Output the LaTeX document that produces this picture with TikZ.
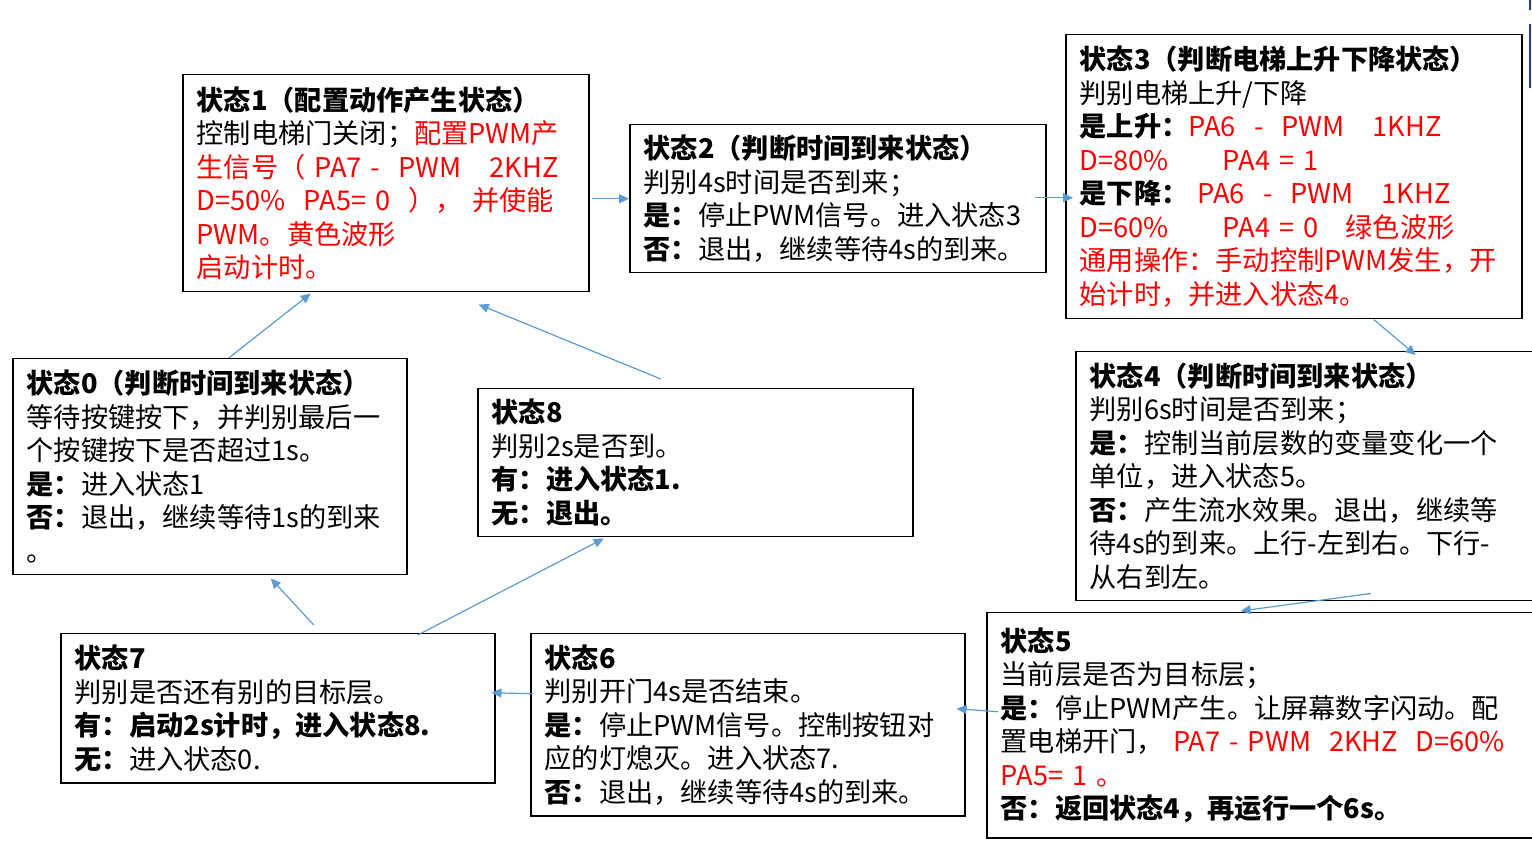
\documentclass[tikz,border=0pt]{standalone}
\usepackage{fontspec}
\setmainfont{Noto Sans CJK SC}
\usetikzlibrary{arrows.meta,calc}
\definecolor{alert-red}{HTML}{FF0000}
\definecolor{flow-blue}{HTML}{5B9BD5}
\definecolor{edge-navy}{HTML}{1F3E99}

\begin{document}
\begin{tikzpicture}[x=0.5pt, y=-0.5pt,
  every node/.style={font=\fontsize{13.6pt}{16.75pt}\selectfont},
  statebox/.style={draw=black, line width=0.75pt, anchor=north west, align=left, inner xsep=7pt, inner ysep=4pt},
  flow/.style={draw=flow-blue, line width=0.6pt, -{Triangle[length=5pt,width=4.5pt]}}]
  \useasboundingbox (0,0) rectangle (1532,849);

  % top row
  \node[statebox, text width=189pt, minimum height=108.5pt] (s1) at (182,74) {\textbf{状态1（配置动作产生状态）}\\
    控制电梯门关闭；\textcolor{alert-red}{配置PWM产}\\
    \textcolor{alert-red}{生信号（ PA7 -~~PWM\hspace{14pt}2KHZ}\\
    \textcolor{alert-red}{D=50\%~~PA5= 0~~），~并使能}\\
    \textcolor{alert-red}{PWM。黄色波形}\\
    \textcolor{alert-red}{启动计时。}};
  \node[statebox, text width=194pt, minimum height=74pt] (s2) at (629,124) {\textbf{状态2（判断时间到来状态）}\\
    判别4s时间是否到来；\\
    \textbf{是：}停止PWM信号。进入状态3\\
    \textbf{否：}退出，继续等待4s的到来。};
  \node[statebox, text width=214pt, minimum height=142pt] (s3) at (1065,34) {\textbf{状态3（判断电梯上升下降状态）}\\
    判别电梯上升/下降\\
    \textbf{是上升：}\textcolor{alert-red}{PA6~~-~~PWM\hspace{14pt}1KHZ}\\
    \textcolor{alert-red}{D=80\%\hspace{27pt}PA4 = 1}\\
    \textbf{是下降：}\textcolor{alert-red}{~PA6~~-~~PWM\hspace{14pt}1KHZ}\\
    \textcolor{alert-red}{D=60\%\hspace{27pt}PA4 = 0~~~绿色波形}\\
    \textcolor{alert-red}{通用操作：手动控制PWM发生，开}\\
    \textcolor{alert-red}{始计时，并进入状态4。}};

  % middle row
  \node[statebox, text width=183pt, minimum height=108pt] (s0) at (12,358) {\textbf{状态0（判断时间到来状态）}\\
    等待按键按下，并判别最后一\\
    个按键按下是否超过1s。\\
    \textbf{是：}进入状态1\\
    \textbf{否：}退出，继续等待1s的到来\\
    。};
  \node[statebox, text width=203.5pt, minimum height=74pt] (s8) at (477,388) {\textbf{状态8}\\
    判别2s是否到。\\
    \textbf{有：进入状态1.}\\
    \textbf{无：退出。}};
  \node[statebox, text width=221pt, minimum height=124.5pt] (s4) at (1075,351) {\textbf{状态4（判断时间到来状态）}\\
    判别6s时间是否到来；\\
    \textbf{是：}控制当前层数的变量变化一个\\
    单位，进入状态5。\\
    \textbf{否：}产生流水效果。退出，继续等\\
    待4s的到来。上行-左到右。下行-\\
    从右到左。};

  % bottom row
  \node[statebox, text width=203pt, minimum height=74.5pt] (s7) at (60,633) {\textbf{状态7}\\
    判别是否还有别的目标层。\\
    \textbf{有：启动2s计时，进入状态8.}\\
    \textbf{无：}进入状态0.};
  \node[statebox, text width=203pt, minimum height=91pt] (s6) at (530,633) {\textbf{状态6}\\
    判别开门4s是否结束。\\
    \textbf{是：}停止PWM信号。控制按钮对\\
    应的灯熄灭。进入状态7.\\
    \textbf{否：}退出，继续等待4s的到来。};
  \node[statebox, text width=265.5pt, minimum height=112.5pt] (s5) at (986,612) {\textbf{状态5}\\
    当前层是否为目标层；\\
    \textbf{是：}停止PWM产生。让屏幕数字闪动。配\\
    \mbox{置电梯开门，\textcolor{alert-red}{~PA7 -~PWM\hspace{9pt}2KHZ\hspace{9pt}D=60\%}}\\
    \textcolor{alert-red}{PA5= 1 。}\\
    \textbf{否：返回状态4，再运行一个6s。}};

  % transitions
  \draw[flow] ($(s0.north)+(19,0)$) -- ($(s1.south)+(-75,1)$);
  \draw[flow] ($(s8.north)+(-34.5,-9)$) -- ($(s1.south)+(93,12)$);
  \draw[flow] ($(s1.east)+(2,15.5)$) -- (s2.west);
  \draw[flow] ($(s2.east)+(-12,-1)$) -- ($(s3.west)+(8,21)$);
  \draw[flow] ($(s3.south)+(80,0)$) -- ($(s4.north)+(105,4)$);
  \draw[flow] ($(s4.south)+(60,-8)$) -- ($(s5.north)+(-25.5,-1)$);
  \draw[flow] ($(s5.west)+(12,-13.5)$) -- ($(s6.east)+(-9,-16)$);
  \draw[flow] ($(s6.west)+(3,-31)$) -- ($(s7.east)+(-4,-15.5)$);
  \draw[flow] ($(s7.north)+(36,-8)$) -- ($(s0.south)+(61,3)$);
  \draw[flow] ($(s7.north)+(140,2)$) -- ($(s8.south)+(-91.5,1)$);

  % stray edge at the right border
  \draw[edge-navy, line width=1pt] (1530,0) -- (1530,10) (1530,24) -- (1530,88);
\end{tikzpicture}
\end{document}
